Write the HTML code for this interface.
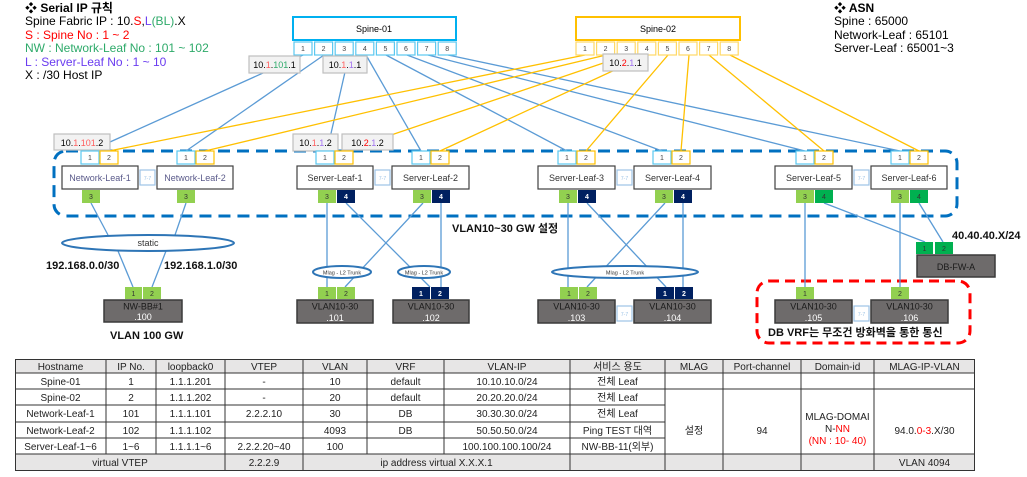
<!DOCTYPE html>
<html><head><meta charset="utf-8"><style>
body{margin:0;width:1027px;height:472px;background:#fff;overflow:hidden;font-family:"Liberation Sans","Noto Sans CJK KR",sans-serif}
svg text{font-family:"Liberation Sans","Noto Sans CJK KR",sans-serif}
</style></head><body>
<svg width="1027" height="472" viewBox="0 0 1027 472" xmlns="http://www.w3.org/2000/svg">
<g font-size="12">
<text x="25" y="12" font-weight="bold">❖ Serial IP 규칙</text>
<text x="25" y="25">Spine Fabric IP : 10.<tspan fill="#ff0000">S</tspan>,<tspan fill="#6a3cf0">L</tspan><tspan fill="#2eaa6a">(BL)</tspan>.X</text>
<text x="25" y="39" fill="#ff0000">S : Spine No : 1 ~ 2</text>
<text x="25" y="52" fill="#2eaa6a">NW : Network-Leaf No : 101 ~ 102</text>
<text x="25" y="66" fill="#6a3cf0">L : Server-Leaf  No : 1 ~ 10</text>
<text x="25" y="79">X : /30 Host IP</text>
<text x="834" y="12" font-weight="bold">❖ ASN</text>
<text x="834" y="25">Spine  : 65000</text>
<text x="834" y="39">Network-Leaf  : 65101</text>
<text x="834" y="52">Server-Leaf  : 65001~3</text>
</g>

<rect x="54" y="151" width="903" height="65" rx="12" fill="none" stroke="#0070c0" stroke-width="3" stroke-dasharray="12,7"/>
<rect x="757" y="281" width="213" height="62" rx="12" fill="none" stroke="#ff0000" stroke-width="3" stroke-dasharray="10,6"/>

<g stroke="#5b9bd5" stroke-width="1.3">
<line x1="303" y1="55" x2="90" y2="151"/>
<line x1="324" y1="55" x2="186" y2="151"/>
<line x1="345" y1="72" x2="327" y2="151"/>
<line x1="366" y1="55" x2="421" y2="151"/>
<line x1="386" y1="55" x2="567" y2="151"/>
<line x1="407" y1="55" x2="662" y2="151"/>
<line x1="428" y1="55" x2="805" y2="151"/>
<line x1="448" y1="55" x2="900" y2="151"/>
</g>
<g stroke="#ffc000" stroke-width="1.3">
<line x1="585" y1="55" x2="109" y2="151"/>
<line x1="606" y1="55" x2="205" y2="151"/>
<line x1="627" y1="55" x2="344" y2="151"/>
<line x1="647" y1="55" x2="440" y2="151"/>
<line x1="668" y1="55" x2="586" y2="151"/>
<line x1="689" y1="55" x2="681" y2="151"/>
<line x1="709" y1="55" x2="824" y2="151"/>
<line x1="730" y1="55" x2="919" y2="151"/>
</g>

<g font-size="9" text-anchor="middle">
<rect x="293" y="17" width="163" height="23" fill="#fff" stroke="#00b0f0" stroke-width="2"/>
<text x="374" y="32">Spine-01</text>
<rect x="576" y="17" width="164" height="23" fill="#fff" stroke="#ffc000" stroke-width="2"/>
<text x="658" y="32">Spine-02</text>
</g>
<g font-size="7" text-anchor="middle" fill="#444">
<g stroke="#5bc8f0" fill="#fff" stroke-width="1.2">
<rect x="294" y="42" width="18" height="13"/><rect x="314.6" y="42" width="18" height="13"/><rect x="335.2" y="42" width="18" height="13"/><rect x="355.8" y="42" width="18" height="13"/><rect x="376.4" y="42" width="18" height="13"/><rect x="397" y="42" width="18" height="13"/><rect x="417.6" y="42" width="18" height="13"/><rect x="438.2" y="42" width="18" height="13"/>
</g>
<g stroke="#ffd966" fill="#fff" stroke-width="1.2">
<rect x="576" y="42" width="18" height="13"/><rect x="596.6" y="42" width="18" height="13"/><rect x="617.2" y="42" width="18" height="13"/><rect x="637.8" y="42" width="18" height="13"/><rect x="658.4" y="42" width="18" height="13"/><rect x="679" y="42" width="18" height="13"/><rect x="699.6" y="42" width="18" height="13"/><rect x="720.2" y="42" width="18" height="13"/>
</g>
<text x="303" y="51">1</text><text x="323.6" y="51">2</text><text x="344.2" y="51">3</text><text x="364.8" y="51">4</text><text x="385.4" y="51">5</text><text x="406" y="51">6</text><text x="426.6" y="51">7</text><text x="447.2" y="51">8</text>
<text x="585" y="51">1</text><text x="605.6" y="51">2</text><text x="626.2" y="51">3</text><text x="646.8" y="51">4</text><text x="667.4" y="51">5</text><text x="688" y="51">6</text><text x="708.6" y="51">7</text><text x="729.2" y="51">8</text>
</g>

<g font-size="9" text-anchor="middle">
<rect x="249" y="56" width="51" height="17" fill="#f2f2f2" stroke="#bfbfbf" stroke-width="1.2"/>
<text x="274.5" y="68">10.<tspan fill="#ff6060">1</tspan>.<tspan fill="#2eaa6a">101</tspan>.1</text>
<rect x="323" y="56" width="44" height="17" fill="#f2f2f2" stroke="#bfbfbf" stroke-width="1.2"/>
<text x="345" y="68">10.<tspan fill="#ff6060">1</tspan>.<tspan fill="#a070f0">1</tspan>.1</text>
<rect x="603" y="54" width="45" height="17" fill="#f2f2f2" stroke="#bfbfbf" stroke-width="1.2"/>
<text x="625.5" y="66">10.<tspan fill="#ff0000">2</tspan>.<tspan fill="#a070f0">1</tspan>.1</text>
<rect x="54" y="134" width="56" height="16" fill="#f2f2f2" stroke="#bfbfbf" stroke-width="1.2"/>
<text x="82" y="146">10.<tspan fill="#ff6060">1</tspan>.<tspan fill="#ff6060">101</tspan>.2</text>
<rect x="293" y="134" width="45" height="17" fill="#f2f2f2" stroke="#bfbfbf" stroke-width="1.2"/>
<text x="315.5" y="146">10.<tspan fill="#ff6060">1</tspan>.<tspan fill="#a070f0">1</tspan>.2</text>
<rect x="342" y="134" width="51" height="16" fill="#f2f2f2" stroke="#bfbfbf" stroke-width="1.2"/>
<text x="367.5" y="146">10.<tspan fill="#ff0000">2</tspan>.<tspan fill="#a070f0">1</tspan>.2</text>
</g>

<g stroke="#5b9bd5" stroke-width="1.3" fill="none">
<line x1="91" y1="203" x2="108" y2="235"/><line x1="186" y1="203" x2="175" y2="235"/>
<line x1="118" y1="251" x2="133" y2="287"/><line x1="166" y1="251" x2="152" y2="287"/>
<line x1="327" y1="203" x2="327" y2="287"/>
<line x1="346" y1="203" x2="430" y2="287"/>
<line x1="423" y1="203" x2="345" y2="287"/>
<line x1="441" y1="203" x2="441" y2="287"/>
<line x1="568" y1="203" x2="568" y2="287"/>
<line x1="587" y1="203" x2="666" y2="287"/>
<line x1="665" y1="203" x2="587" y2="287"/>
<line x1="683" y1="203" x2="683" y2="287"/>
<line x1="805" y1="203" x2="805" y2="287"/>
<line x1="900" y1="203" x2="900" y2="287"/>
<line x1="824" y1="203" x2="925" y2="242"/>
<line x1="919" y1="203" x2="943" y2="242"/>
</g>

<g fill="#fff" stroke="#2e75b6" stroke-width="2">
<ellipse cx="148" cy="243" rx="86" ry="8"/>
<ellipse cx="342" cy="272" rx="29" ry="6"/>
<ellipse cx="424" cy="272" rx="26" ry="6"/>
<ellipse cx="625" cy="272" rx="73" ry="6"/>
</g>
<g text-anchor="middle" fill="#333">
<text x="148" y="246" font-size="9">static</text>
<text x="342" y="274.5" font-size="5.5">Mlag - L2 Trunk</text>
<text x="424" y="274.5" font-size="5.5">Mlag - L2 Trunk</text>
<text x="625" y="274.5" font-size="5.5">Mlag - L2 Trunk</text>
</g>

<g stroke-width="1.2" fill="#fff">
<g stroke="#5bc8f0">
<rect x="81" y="151" width="18" height="13"/><rect x="177" y="151" width="18" height="13"/><rect x="316" y="151" width="18" height="13"/><rect x="412" y="151" width="18" height="13"/><rect x="558" y="151" width="18" height="13"/><rect x="653" y="151" width="18" height="13"/><rect x="796" y="151" width="18" height="13"/><rect x="891" y="151" width="18" height="13"/>
</g>
<g stroke="#ffc000">
<rect x="100" y="151" width="18" height="13"/><rect x="196" y="151" width="18" height="13"/><rect x="335" y="151" width="18" height="13"/><rect x="431" y="151" width="18" height="13"/><rect x="577" y="151" width="18" height="13"/><rect x="672" y="151" width="18" height="13"/><rect x="815" y="151" width="18" height="13"/><rect x="910" y="151" width="18" height="13"/>
</g>
</g>
<g font-size="7" text-anchor="middle" fill="#444">
<text x="90" y="160">1</text><text x="109" y="160">2</text><text x="186" y="160">1</text><text x="205" y="160">2</text>
<text x="325" y="160">1</text><text x="344" y="160">2</text><text x="421" y="160">1</text><text x="440" y="160">2</text>
<text x="567" y="160">1</text><text x="586" y="160">2</text><text x="662" y="160">1</text><text x="681" y="160">2</text>
<text x="805" y="160">1</text><text x="824" y="160">2</text><text x="900" y="160">1</text><text x="919" y="160">2</text>
</g>

<g fill="#fff" stroke="#404040" stroke-width="1.2">
<rect x="62" y="166" width="76" height="23"/><rect x="157" y="166" width="76" height="23"/>
<rect x="297" y="166" width="76" height="23"/><rect x="392" y="166" width="77" height="23"/>
<rect x="538" y="166" width="77" height="23"/><rect x="634" y="166" width="77" height="23"/>
<rect x="775" y="166" width="77" height="23"/><rect x="871" y="166" width="76" height="23"/>
</g>
<g fill="#fff" stroke="#9dc3e6" stroke-width="1.2">
<rect x="140" y="170" width="15" height="15"/><rect x="375" y="170" width="15" height="15"/><rect x="617" y="170" width="15" height="15"/><rect x="854" y="170" width="15" height="15"/>
<rect x="617" y="306" width="15" height="15"/><rect x="854" y="306" width="15" height="15"/>
</g>
<g font-size="5" text-anchor="middle" fill="#9dc3e6">
<text x="147.5" y="180">7-7</text><text x="382.5" y="180">7-7</text><text x="624.5" y="180">7-7</text><text x="861.5" y="180">7-7</text>
<text x="624.5" y="316">7-7</text><text x="861.5" y="316">7-7</text>
</g>
<g font-size="9" text-anchor="middle" fill="#333">
<text x="100" y="181" fill="#5a5a8a">Network-Leaf-1</text><text x="195" y="181" fill="#5a5a8a">Network-Leaf-2</text>
<text x="335" y="181">Server-Leaf-1</text><text x="430.5" y="181">Server-Leaf-2</text>
<text x="576.5" y="181">Server-Leaf-3</text><text x="672.5" y="181">Server-Leaf-4</text>
<text x="813.5" y="181">Server-Leaf-5</text><text x="909" y="181">Server-Leaf-6</text>
</g>

<g>
<g fill="#92d050">
<rect x="82" y="190" width="18" height="13"/><rect x="177" y="190" width="18" height="13"/>
<rect x="318" y="190" width="18" height="13"/><rect x="413" y="190" width="18" height="13"/>
<rect x="559" y="190" width="18" height="13"/><rect x="655" y="190" width="18" height="13"/>
<rect x="796" y="190" width="18" height="13"/><rect x="891" y="190" width="18" height="13"/>
<rect x="125" y="287" width="17" height="12"/><rect x="143" y="287" width="18" height="12"/>
<rect x="318" y="287" width="18" height="12"/><rect x="337" y="287" width="18" height="12"/>
<rect x="560" y="287" width="18" height="12"/><rect x="579" y="287" width="18" height="12"/>
<rect x="796" y="287" width="18" height="12"/><rect x="891" y="287" width="18" height="12"/>
</g>
<g fill="#002060">
<rect x="337" y="190" width="18" height="13"/><rect x="432" y="190" width="18" height="13"/>
<rect x="578" y="190" width="18" height="13"/><rect x="674" y="190" width="18" height="13"/>
<rect x="412" y="287" width="18" height="12"/><rect x="431" y="287" width="18" height="12"/>
<rect x="656" y="287" width="18" height="12"/><rect x="675" y="287" width="18" height="12"/>
</g>
<g fill="#00b050">
<rect x="815" y="190" width="18" height="13"/><rect x="910" y="190" width="18" height="13"/>
<rect x="916" y="242" width="17" height="12"/><rect x="935" y="242" width="18" height="12"/>
</g>
</g>
<g font-size="7" text-anchor="middle" fill="#333">
<text x="91" y="199">3</text><text x="186" y="199">3</text><text x="327" y="199">3</text><text x="422" y="199">3</text>
<text x="568" y="199">3</text><text x="664" y="199">3</text><text x="805" y="199">3</text><text x="900" y="199">3</text>
<text x="824" y="199">4</text><text x="919" y="199">4</text>
<text x="133.5" y="296">1</text><text x="152" y="296">2</text><text x="327" y="296">1</text><text x="346" y="296">2</text>
<text x="569" y="296">1</text><text x="588" y="296">2</text><text x="805" y="296">1</text><text x="900" y="296">2</text>
<text x="924.5" y="251">1</text><text x="944" y="251">2</text>
</g>
<g font-size="7" text-anchor="middle" fill="#fff" font-weight="bold">
<text x="346" y="199">4</text><text x="441" y="199">4</text><text x="587" y="199">4</text><text x="683" y="199">4</text>
<text x="421" y="296">1</text><text x="440" y="296">2</text><text x="665" y="296">1</text><text x="684" y="296">2</text>
</g>

<g fill="#6e6b6b" stroke="#3a3a3a" stroke-width="1.5">
<rect x="104" y="300" width="78" height="22"/>
<rect x="297" y="300" width="76" height="23"/><rect x="393" y="300" width="76" height="23"/>
<rect x="538" y="300" width="77" height="23"/><rect x="634" y="300" width="77" height="23"/>
<rect x="775" y="300" width="77" height="23"/><rect x="871" y="300" width="77" height="23"/>
<rect x="917" y="255" width="78" height="22"/>
</g>
<g font-size="9" text-anchor="middle" fill="#1a1a1a">
<text x="143" y="309.5">NW-BB#1</text>
<text x="335" y="309.5">VLAN10-30</text><text x="431" y="309.5">VLAN10-30</text>
<text x="576.5" y="309.5">VLAN10-30</text><text x="672.5" y="309.5">VLAN10-30</text>
<text x="813.5" y="309.5">VLAN10-30</text><text x="909.5" y="309.5">VLAN10-30</text>
<text x="956" y="270" font-size="9">DB-FW-A</text>
</g>
<g font-size="9" text-anchor="middle" fill="#fff">
<text x="143" y="320">.100</text>
<text x="335" y="321">.101</text><text x="431" y="321">.102</text>
<text x="576.5" y="321">.103</text><text x="672.5" y="321">.104</text>
<text x="813.5" y="321">.105</text><text x="909.5" y="321">.106</text>
</g>

<g font-size="11" font-weight="bold" fill="#111">
<text x="46" y="269">192.168.0.0/30</text>
<text x="164" y="269">192.168.1.0/30</text>
<text x="110" y="339">VLAN 100 GW</text>
<text x="452" y="232">VLAN10~30 GW 설정</text>
<text x="952" y="239">40.40.40.X/24</text>
<text x="768" y="336">DB VRF는 무조건 방화벽을 통한 통신</text>
</g>

<g>
<rect x="15" y="359" width="960" height="14" fill="#e7e6e6"/>
<rect x="15" y="454" width="960" height="16" fill="#e7e6e6"/>
<g stroke="#333" stroke-width="1" fill="none">
<rect x="15.5" y="359.5" width="959" height="111"/>
<line x1="15" y1="373" x2="975" y2="373"/>
<line x1="15" y1="389" x2="975" y2="389"/>
<line x1="15" y1="405" x2="665" y2="405"/>
<line x1="15" y1="422" x2="665" y2="422"/>
<line x1="15" y1="438" x2="665" y2="438"/>
<line x1="15" y1="454" x2="975" y2="454"/>
<line x1="106" y1="359" x2="106" y2="454"/>
<line x1="156" y1="359" x2="156" y2="454"/>
<line x1="225" y1="359" x2="225" y2="470"/>
<line x1="303" y1="359" x2="303" y2="470"/>
<line x1="367" y1="359" x2="367" y2="454"/>
<line x1="444" y1="359" x2="444" y2="454"/>
<line x1="570" y1="359" x2="570" y2="470"/>
<line x1="665" y1="359" x2="665" y2="470"/>
<line x1="723" y1="359" x2="723" y2="470"/>
<line x1="801" y1="359" x2="801" y2="470"/>
<line x1="874" y1="359" x2="874" y2="470"/>
</g>
<g font-size="10" text-anchor="middle" fill="#222">
<text x="60.5" y="370">Hostname</text><text x="131" y="370">IP No.</text><text x="190.5" y="370">loopback0</text><text x="264" y="370">VTEP</text><text x="335" y="370">VLAN</text><text x="405.5" y="370">VRF</text><text x="507" y="370">VLAN-IP</text><text x="617.5" y="370">서비스 용도</text><text x="694" y="370">MLAG</text><text x="762" y="370">Port-channel</text><text x="837.5" y="370">Domain-id</text><text x="924.5" y="370">MLAG-IP-VLAN</text>
<text x="60.5" y="385">Spine-01</text><text x="131" y="385">1</text><text x="190.5" y="385">1.1.1.201</text><text x="264" y="385">-</text><text x="335" y="385">10</text><text x="405.5" y="385">default</text><text x="507" y="385">10.10.10.0/24</text><text x="617.5" y="385">전체 Leaf</text>
<text x="60.5" y="401">Spine-02</text><text x="131" y="401">2</text><text x="190.5" y="401">1.1.1.202</text><text x="264" y="401">-</text><text x="335" y="401">20</text><text x="405.5" y="401">default</text><text x="507" y="401">20.20.20.0/24</text><text x="617.5" y="401">전체 Leaf</text>
<text x="60.5" y="417">Network-Leaf-1</text><text x="131" y="417">101</text><text x="190.5" y="417">1.1.1.101</text><text x="264" y="417">2.2.2.10</text><text x="335" y="417">30</text><text x="405.5" y="417">DB</text><text x="507" y="417">30.30.30.0/24</text><text x="617.5" y="417">전체 Leaf</text>
<text x="60.5" y="434">Network-Leaf-2</text><text x="131" y="434">102</text><text x="190.5" y="434">1.1.1.102</text><text x="335" y="434">4093</text><text x="405.5" y="434">DB</text><text x="507" y="434">50.50.50.0/24</text><text x="617.5" y="434">Ping TEST 대역</text>
<text x="60.5" y="450">Server-Leaf-1~6</text><text x="131" y="450">1~6</text><text x="190.5" y="450">1.1.1.1~6</text><text x="264" y="450">2.2.2.20~40</text><text x="335" y="450">100</text><text x="507" y="450">100.100.100.100/24</text><text x="617.5" y="450">NW-BB-11(외부)</text>
<text x="694" y="434">설정</text><text x="762" y="434">94</text>
<text x="837.5" y="420">MLAG-DOMAI</text><text x="837.5" y="432">N-<tspan fill="#ff0000">NN</tspan></text><text x="837.5" y="444" fill="#ff0000">(NN : 10- 40)</text>
<text x="924.5" y="434">94.0.<tspan fill="#ff0000">0-3</tspan>.X/30</text>
<text x="120" y="466">virtual VTEP</text><text x="264" y="466">2.2.2.9</text><text x="436.5" y="466">ip address virtual X.X.X.1</text><text x="924.5" y="466">VLAN 4094</text>
</g>
</g>
</svg>
</body></html>
